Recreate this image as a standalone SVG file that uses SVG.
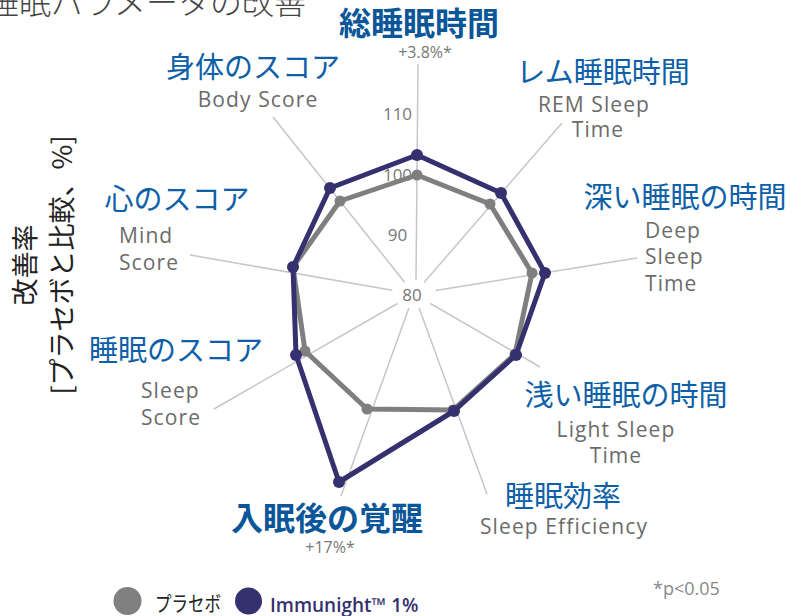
<svg xmlns="http://www.w3.org/2000/svg" width="796" height="616" viewBox="0 0 796 616">
<style>
.jp{font-family:"Noto Sans CJK JP","Noto Sans CJK SC",sans-serif;fill:#0d60a8;font-size:29px}
.jpb{font-family:"Noto Sans CJK JP","Noto Sans CJK SC",sans-serif;fill:#0a5699;font-size:32px;font-weight:bold}
.en{font-family:"Open Sans","Liberation Sans",sans-serif;fill:#6b6b6b;font-size:21px;letter-spacing:1.1px}
.num{font-family:"Open Sans","Liberation Sans",sans-serif;fill:#777;font-size:17px}
.sm{font-family:"Open Sans","Liberation Sans",sans-serif;fill:#777;font-size:16px}
.mid{text-anchor:middle}
.spoke{stroke:#c6c6c6;stroke-width:1.5;fill:none}
.pg{fill:none;stroke:#7f7f7f;stroke-width:5;stroke-linejoin:round}
.pb{fill:none;stroke:#35306e;stroke-width:5;stroke-linejoin:round}
.dg{fill:#7f7f7f}
.db{fill:#35306e}
</style>

<text x="-13" y="14" font-family="Noto Sans CJK JP, sans-serif" font-size="32" font-weight="300" fill="#444">睡眠パラメータの改善</text>

<g id="axis-label" font-family="Noto Sans CJK JP, sans-serif" font-size="27" fill="#222">
<text transform="translate(35,265) rotate(-90)" text-anchor="middle">改善率</text>
<text transform="translate(72,265) rotate(-90)" text-anchor="middle">[プラセボと比較、%]</text>
</g>

<g id="connectors">
<line class="spoke" x1="416" y1="280" x2="418" y2="64"/>
<line class="spoke" x1="424" y1="282.6" x2="562" y2="123"/>
<line class="spoke" x1="435.7" y1="290.5" x2="637" y2="258"/>
<line class="spoke" x1="430.4" y1="303.5" x2="540" y2="367"/>
<line class="spoke" x1="419.1" y1="308.1" x2="487" y2="494"/>
<line class="spoke" x1="408.9" y1="308.1" x2="341" y2="496"/>
<line class="spoke" x1="397.5" y1="303.5" x2="214" y2="409"/>
<line class="spoke" x1="392.3" y1="290.2" x2="190" y2="255"/>
<line class="spoke" x1="404.7" y1="282.3" x2="273" y2="117"/>
</g>

<g id="ticks">
<text class="num mid" x="397.5" y="120">110</text>
<text class="num mid" x="397.5" y="181">100</text>
<text class="num mid" x="397.5" y="241">90</text>
<text class="num mid" x="412" y="301" font-size="18">80</text>
</g>

<g id="placebo">
<polygon class="pg" points="417,175 490,204 532,273 515,354 453,410 367,409 305,351 293,267 340,201"/>
<circle class="dg" cx="417" cy="175" r="5.5"/>
<circle class="dg" cx="490" cy="204" r="5.5"/>
<circle class="dg" cx="532" cy="273" r="5.5"/>
<circle class="dg" cx="515" cy="354" r="5.5"/>
<circle class="dg" cx="453" cy="410" r="5.5"/>
<circle class="dg" cx="367" cy="409" r="5.5"/>
<circle class="dg" cx="305" cy="351" r="5.5"/>
<circle class="dg" cx="293" cy="267" r="5.5"/>
<circle class="dg" cx="340" cy="201" r="5.5"/>
</g>

<g id="immunight">
<polygon class="pb" points="417,155 501,193 545,273 516,355 454,411 339,482 296,355 293,267 330,188"/>
<circle class="db" cx="417" cy="155" r="6"/>
<circle class="db" cx="501" cy="193" r="6"/>
<circle class="db" cx="545" cy="273" r="6"/>
<circle class="db" cx="516" cy="355" r="6"/>
<circle class="db" cx="454" cy="411" r="6"/>
<circle class="db" cx="339" cy="482" r="6"/>
<circle class="db" cx="296" cy="355" r="6"/>
<circle class="db" cx="293" cy="267" r="6"/>
<circle class="db" cx="330" cy="188" r="6"/>
</g>

<g id="node-total">
<text class="jpb mid" x="419" y="35">総睡眠時間</text>
<text class="sm mid" x="425" y="58">+3.8%*</text>
</g>
<g id="node-rem">
<text class="jp mid" x="603" y="83">レム睡眠時間</text>
<text class="en mid" x="594" y="112">REM Sleep</text>
<text class="en mid" x="598" y="137">Time</text>
</g>
<g id="node-deep">
<text class="jp mid" x="685" y="208">深い睡眠の時間</text>
<text class="en" x="645" y="238">Deep</text>
<text class="en" x="645" y="264">Sleep</text>
<text class="en" x="645" y="291">Time</text>
</g>
<g id="node-light">
<text class="jp mid" x="626" y="406">浅い睡眠の時間</text>
<text class="en mid" x="616" y="437">Light Sleep</text>
<text class="en mid" x="616" y="463">Time</text>
</g>
<g id="node-efficiency">
<text class="jp mid" x="563" y="507">睡眠効率</text>
<text class="en mid" x="564" y="534">Sleep Efficiency</text>
</g>
<g id="node-waso">
<text class="jpb mid" x="327" y="530">入眠後の覚醒</text>
<text class="sm mid" x="330" y="553">+17%*</text>
</g>
<g id="node-sleepscore">
<text class="jp mid" x="176" y="361">睡眠のスコア</text>
<text class="en" x="141" y="398">Sleep</text>
<text class="en" x="141" y="425">Score</text>
</g>
<g id="node-mind">
<text class="jp mid" x="177" y="210">心のスコア</text>
<text class="en" x="119" y="243">Mind</text>
<text class="en" x="119" y="270">Score</text>
</g>
<g id="node-body">
<text class="jp mid" x="253" y="78">身体のスコア</text>
<text class="en mid" x="258" y="107">Body Score</text>
</g>

<g id="legend">
<circle cx="127.5" cy="601" r="14" fill="#808080"/>
<text x="155" y="611" font-family="Noto Sans CJK JP, sans-serif" font-size="21" fill="#222" textLength="66" lengthAdjust="spacingAndGlyphs">プラセボ</text>
<circle cx="248.5" cy="601" r="13.5" fill="#35306e"/>
<text x="270" y="612" font-family="Open Sans, Liberation Sans, sans-serif" font-size="19" font-weight="600" fill="#35306e">Immunight™ 1%</text>
</g>

<text x="653" y="595" font-family="Open Sans, Liberation Sans, sans-serif" font-size="18" fill="#888">*p&lt;0.05</text>
</svg>
